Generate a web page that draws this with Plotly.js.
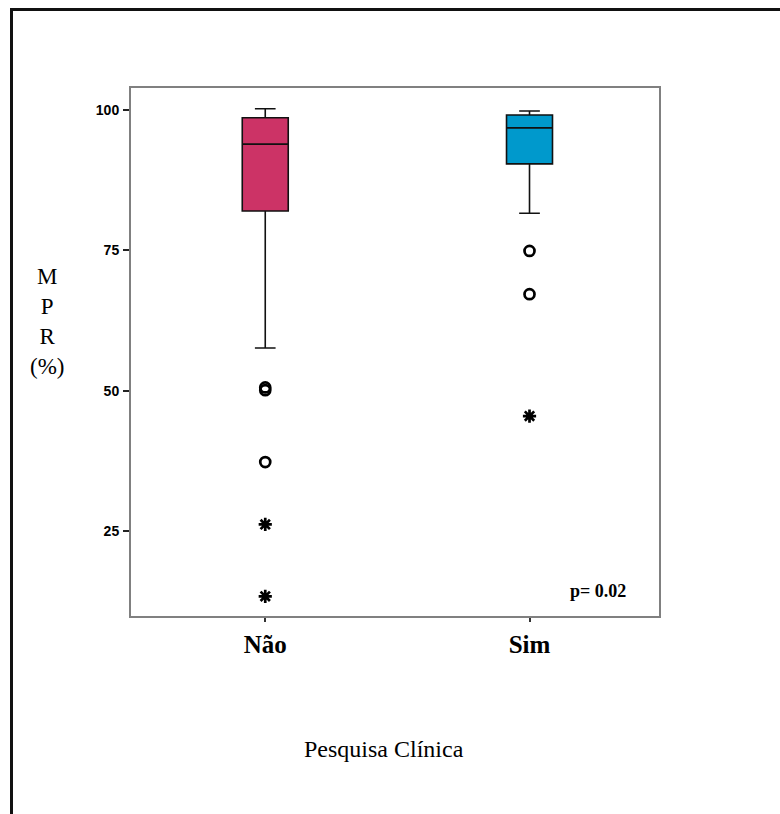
<!DOCTYPE html>
<html>
<head>
<meta charset="utf-8">
<script src="https://cdn.plot.ly/plotly-3.0.1.min.js"></script>
<style>
  html, body { margin: 0; padding: 0; background: #fff; overflow: hidden; }
  #chart { width: 780px; height: 814px; }
  #frame { position: absolute; left: 10px; top: 8px; width: 820px; height: 830px;
           border-top: 3px solid #111; border-left: 3px solid #111; pointer-events: none; }
</style>
</head>
<body>
<div id="chart"></div>
<div id="frame"></div>
<script>
// ---- data ----
const categories = ['Não', 'Sim'];
const q1Values = [82.0, 90.4];
const medianValues = [93.9, 96.8];
const q3Values = [98.6, 99.1];
const lowerWhisker = [57.6, 81.6];
const upperWhisker = [100.2, 99.8];
const naoCircles = [50.1, 50.6, 37.3];
const naoStars = [26.2, 13.4];
const simCircles = [74.9, 67.2];
const simStars = [45.5];
const boxColors = ['#CC3366', '#0099CC'];
const yTicks = [25, 50, 75, 100];
const pText = 'p= 0.02';

const traces = [];
categories.forEach((c, i) => {
  traces.push({
    type: 'box',
    x: [c],
    q1: [q1Values[i]],
    median: [medianValues[i]],
    q3: [q3Values[i]],
    lowerfence: [lowerWhisker[i]],
    upperfence: [upperWhisker[i]],
    fillcolor: boxColors[i],
    line: { color: '#111', width: 1.6 },
    whiskerwidth: 0.45,
    width: 0.174,
    boxpoints: false,
    showlegend: false,
    hoverinfo: 'y'
  });
});

function outlierTrace(cat, vals, symbol, size) {
  return {
    type: 'scatter', mode: 'markers',
    x: vals.map(() => cat), y: vals,
    marker: { symbol: symbol, size: size, color: '#000', line: { color: '#000', width: 2.7 } },
    showlegend: false, hoverinfo: 'y'
  };
}
traces.push(outlierTrace(categories[0], naoCircles, 'circle-open', 10));
traces.push(outlierTrace(categories[0], naoStars, 'asterisk-open', 11));
traces.push(outlierTrace(categories[1], simCircles, 'circle-open', 10));
traces.push(outlierTrace(categories[1], simStars, 'asterisk-open', 11));

const serif = '"Liberation Serif", "Times New Roman", serif';

const layout = {
  width: 780, height: 814,
  margin: { l: 131, r: 121, t: 88, b: 198 },
  paper_bgcolor: '#fff', plot_bgcolor: '#fff',
  boxmode: 'overlay',
  showlegend: false,
  xaxis: {
    type: 'category',
    categoryorder: 'array', categoryarray: categories,
    range: [-0.508, 1.49],
    showgrid: false, zeroline: false,
    showline: true, mirror: true, linecolor: '#808080', linewidth: 2,
    ticks: 'outside', ticklen: 4, tickwidth: 2, tickcolor: '#333',
    ticklabelstandoff: 1,
    tickfont: { family: serif, size: 25, color: '#000', weight: 'bold' }
  },
  yaxis: {
    range: [9.9, 103.9],
    tickvals: yTicks,
    showgrid: false, zeroline: false,
    showline: true, mirror: true, linecolor: '#808080', linewidth: 2,
    ticks: 'outside', ticklen: 6, tickwidth: 2, tickcolor: '#222',
    ticklabelstandoff: 1,
    tickfont: { family: '"Liberation Sans Narrow", "Liberation Sans", Arial, sans-serif', size: 14, color: '#000', weight: 'bold' }
  },
  annotations: [
    { xref: 'paper', yref: 'paper', x: 0.884, y: 0.047, xanchor: 'center', yanchor: 'middle',
      text: '<b>' + pText + '</b>', showarrow: false,
      font: { family: serif, size: 18, color: '#000' } },
    { xref: 'paper', yref: 'paper', x: 0.479, y: -0.252, xanchor: 'center', yanchor: 'middle',
      text: 'Pesquisa Clínica', showarrow: false,
      font: { family: serif, size: 24, color: '#000' } },
    { xref: 'paper', yref: 'paper', x: -0.159, y: 0.557, xanchor: 'center', yanchor: 'middle',
      text: 'M<br>P<br>R<br>(%)', showarrow: false,
      align: 'center',
      font: { family: serif, size: 23, color: '#000' } }
  ]
};

Plotly.newPlot('chart', traces, layout, { displayModeBar: false, staticPlot: true });
</script>
</body>
</html>
